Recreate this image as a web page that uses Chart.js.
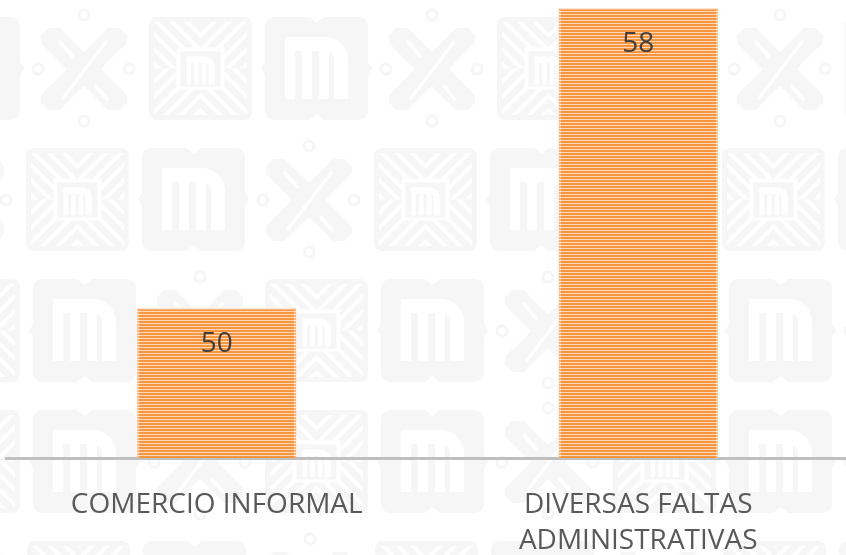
<!DOCTYPE html>
<html>
<head>
<meta charset="utf-8">
<script src="https://cdn.jsdelivr.net/npm/chart.js@4"></script>
<style>
  html, body { margin: 0; padding: 0; background: #fff; overflow: hidden; }
  #wrap { position: relative; width: 852px; height: 555px; }
</style>
</head>
<body>
<div id="wrap"><canvas id="c"></canvas></div>
<script>
// Chart data
const categories = ['COMERCIO INFORMAL', ['DIVERSAS FALTAS', 'ADMINISTRATIVAS']];
const values = [50, 58];
const axisMin = 46;
const axisMax = 58;

const FONT = '"Open Sans", "Noto Sans", sans-serif';
const canvas = document.getElementById('c');
const ctx0 = canvas.getContext('2d');

// Horizontal-line fill used on the bars
function stripes(dark, light) {
  const p = document.createElement('canvas');
  p.width = 4; p.height = 3;
  const g = p.getContext('2d');
  g.fillStyle = dark; g.fillRect(0, 0, 4, 2);
  g.fillStyle = light; g.fillRect(0, 2, 4, 1);
  return ctx0.createPattern(p, 'repeat');
}
const barFill = stripes('#f7963f', '#fdd9bb');
const barEdge = stripes('#f9b47c', '#fde5d1');

// ---- faint tiled emblem watermark behind the plot ----
const WM = '#f6f6f6';

function letterM(ctx, x, y, s) {
  // white "m" glyph in a 63 x 62 design box
  ctx.save();
  ctx.translate(x, y); ctx.scale(s, s);
  ctx.fillStyle = '#fff';
  ctx.fillRect(0, 0, 10, 62);
  ctx.fillRect(0, 0, 40, 14);
  ctx.beginPath();
  ctx.arc(40, 23, 23, -Math.PI / 2, 0);
  ctx.arc(40, 23, 9, 0, -Math.PI / 2, true);
  ctx.closePath(); ctx.fill();
  ctx.fillRect(49, 23, 14, 39);
  ctx.fillRect(17, 14, 10, 48);
  ctx.fillRect(34, 14, 10, 48);
  ctx.restore();
}

function tileM(ctx, x, y) {
  ctx.fillStyle = WM;
  ctx.beginPath(); ctx.roundRect(x, y, 103, 103, 9); ctx.fill();
  ctx.beginPath(); ctx.moveTo(x, y + 45); ctx.lineTo(x - 4, y + 51.5); ctx.lineTo(x, y + 58); ctx.fill();
  ctx.beginPath(); ctx.moveTo(x + 103, y + 45); ctx.lineTo(x + 107, y + 51.5); ctx.lineTo(x + 103, y + 58); ctx.fill();
  ctx.fillStyle = '#fff';
  ctx.beginPath(); ctx.moveTo(x + 44, y); ctx.lineTo(x + 51.5, y + 6); ctx.lineTo(x + 59, y); ctx.fill();
  ctx.beginPath(); ctx.moveTo(x + 44, y + 103); ctx.lineTo(x + 51.5, y + 97); ctx.lineTo(x + 59, y + 103); ctx.fill();
  letterM(ctx, x + 20, y + 20, 1);
}

function tileX(ctx, x, y) {
  const cx = x + 51, cy = y + 52;
  ctx.save();
  ctx.strokeStyle = WM; ctx.lineWidth = 3.2;
  for (const [dx, dy] of [[0, -54], [0, 52], [-46, 0], [45, 0]]) {
    ctx.beginPath(); ctx.arc(cx + dx, cy + dy, 5, 0, Math.PI * 2); ctx.stroke();
  }
  ctx.beginPath(); ctx.rect(cx - 43, cy - 41, 86, 82); ctx.clip();
  ctx.lineWidth = 24; ctx.lineCap = 'square';
  ctx.beginPath();
  ctx.moveTo(cx - 30, cy - 30); ctx.lineTo(cx + 30, cy + 30);
  ctx.moveTo(cx + 30, cy - 30); ctx.lineTo(cx - 30, cy + 30);
  ctx.stroke();
  ctx.strokeStyle = '#fff'; ctx.lineWidth = 3.5; ctx.lineCap = 'round';
  ctx.beginPath();
  ctx.moveTo(cx + 22, cy - 27); ctx.lineTo(cx - 21, cy + 29);
  ctx.moveTo(cx - 24, cy - 27); ctx.lineTo(cx - 12, cy - 13);
  ctx.moveTo(cx + 12, cy + 17); ctx.lineTo(cx + 23, cy + 30);
  ctx.stroke();
  ctx.restore();
}

function tileS(ctx, x, y) {
  const cx = x + 51.5, cy = y + 51.5;
  ctx.save();
  ctx.fillStyle = WM;
  ctx.beginPath(); ctx.roundRect(x, y, 103, 103, 8); ctx.fill();
  ctx.strokeStyle = '#fff'; ctx.lineWidth = 4;
  // each quadrant carries lines parallel to its own diagonal -> chevrons toward the centre
  const quads = [[-1, -1, 1], [1, -1, -1], [-1, 1, -1], [1, 1, 1]];
  for (const [qx, qy, dir] of quads) {
    ctx.save();
    ctx.beginPath();
    ctx.rect(qx < 0 ? x + 5 : cx, qy < 0 ? y + 5 : cy, 46.5, 46.5);
    ctx.clip();
    ctx.beginPath();
    for (let c = -78; c <= 78; c += 15) {
      if (dir > 0) { ctx.moveTo(cx - 70, cy - 70 + c); ctx.lineTo(cx + 70, cy + 70 + c); }
      else { ctx.moveTo(cx - 70, cy + 70 + c); ctx.lineTo(cx + 70, cy - 70 + c); }
    }
    ctx.stroke();
    ctx.restore();
  }
  ctx.restore();
  ctx.fillStyle = '#fff'; ctx.fillRect(cx - 24, cy - 21, 48, 42);
  ctx.fillStyle = WM; ctx.fillRect(cx - 20, cy - 17, 40, 35);
  letterM(ctx, cx - 14, cy - 12, 0.45);
}

const tileRows = [
  { y: 17,  x0: 33, kinds: 'MXSMXSMXS' },
  { y: 148, x0: 26, kinds: 'XSMXSMXSM' },
  { y: 279, x0: 33, kinds: 'SMXSMXSMX' },
  { y: 410, x0: 33, kinds: 'SMXSMXSMX' },
  { y: 541, x0: 27, kinds: 'XSMXSMXSM' }
];

const watermark = {
  id: 'watermark',
  beforeDraw(chart) {
    const ctx = chart.ctx;
    ctx.save();
    ctx.fillStyle = '#fff';
    ctx.fillRect(0, 0, chart.width, chart.height);
    for (const row of tileRows) {
      [...row.kinds].forEach((k, i) => {
        const x = row.x0 + (i - 1) * 116;
        if (k === 'M') tileM(ctx, x, row.y);
        else if (k === 'X') tileX(ctx, x, row.y);
        else tileS(ctx, x, row.y);
      });
    }
    ctx.restore();
  }
};

// Value printed inside the top of each bar
const valueLabels = {
  id: 'valueLabels',
  afterDatasetsDraw(chart) {
    const ctx = chart.ctx;
    const meta = chart.getDatasetMeta(0);
    ctx.save();
    ctx.font = '28px ' + FONT;
    ctx.fillStyle = '#404040';
    ctx.textAlign = 'center';
    ctx.textBaseline = 'middle';
    meta.data.forEach((bar, i) => {
      ctx.fillText(String(values[i]), bar.x, bar.y + 36);
    });
    ctx.restore();
  }
};

new Chart(canvas, {
  type: 'bar',
  data: {
    labels: categories,
    datasets: [{
      data: values,
      base: axisMin,
      backgroundColor: barFill,
      borderColor: barEdge,
      borderWidth: 2,
      categoryPercentage: 1,
      barPercentage: 0.378
    }]
  },
  options: {
    responsive: true,
    maintainAspectRatio: false,
    animation: false,
    layout: { padding: { top: 8, left: 6, right: 3, bottom: 0 } },
    plugins: { legend: { display: false }, tooltip: { enabled: false } },
    scales: {
      y: { display: false, min: axisMin, max: axisMax },
      x: {
        z: 1,
        grid: { display: false, drawTicks: false },
        border: { display: true, color: '#bfbfbf', width: 3 },
        afterFit(scale) { scale.height = 97; },
        ticks: {
          color: '#595959',
          padding: 29,
          autoSkip: false,
          maxRotation: 0,
          font: { family: FONT, size: 28, lineHeight: 1.286 }
        }
      }
    }
  },
  plugins: [watermark, valueLabels]
});
</script>
</body>
</html>
